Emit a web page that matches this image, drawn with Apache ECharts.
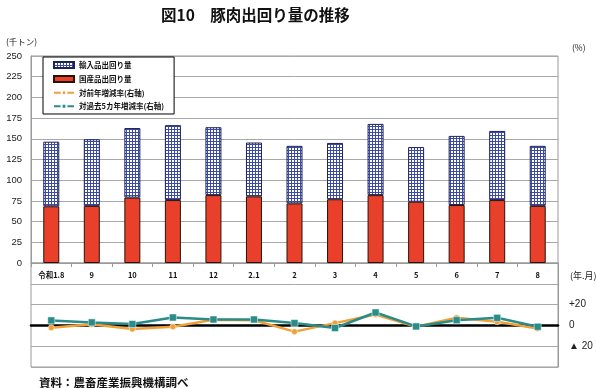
<!DOCTYPE html>
<html><head><meta charset="utf-8">
<script src="https://cdn.jsdelivr.net/npm/echarts@6/dist/echarts.min.js"></script>
<style>html,body{margin:0;padding:0;background:#fff}#c{width:596px;height:388px}</style>
</head><body><div id="c"></div>
<script>
const categories = ['令和1.8','9','10','11','12','2.1','2','3','4','5','6','7','8'];
const domestic = [68.5, 69, 79, 76, 82, 80.5, 72, 77, 82, 74, 70, 76, 69];
const imported = [78, 80.5, 84, 90.5, 82, 65, 69.5, 68, 86, 66, 83.5, 83.5, 72.5];
const yoy = [-2.2, 1, -3.5, -1.3, 5.4, 5, -6, 2.2, 10.5, -1.3, 7.3, 3.5, -2.9];
const vs5y = [4.8, 2.9, 1.3, 7.6, 5.7, 5.7, 2.2, -2.5, 12.4, -1, 5, 7.3, -1.3];
const leftTicks = [0,25,50,75,100,125,150,175,200,225,250];
const rightTickLabels = {'20':'+20','0':'0','-20':'▲ 20'};

const pc = document.createElement('canvas');
pc.width = 3; pc.height = 3;
const g = pc.getContext('2d');
g.fillStyle = '#ffffff'; g.fillRect(0,0,3,3);
g.fillStyle = '#3a4aa5'; g.fillRect(0,0,3,1); g.fillRect(0,0,1,3);

const FONT = '"Noto Sans CJK JP", "Liberation Sans", sans-serif';
const chart = echarts.init(document.getElementById('c'));
chart.setOption({
  animation: false,
  textStyle: {fontFamily: FONT},
  title: [
    {text: '図10　豚肉出回り量の推移', left: 156, top: 2, textStyle: {fontSize: 15.5, fontWeight: 'bold', color: '#111', fontFamily: FONT}},
    {text: '(千トン)', left: 1, top: 33, textStyle: {fontSize: 8.5, fontWeight: 'normal', color: '#222', fontFamily: FONT}},
    {text: '(%)', left: 567, top: 39, textStyle: {fontSize: 8.5, fontWeight: 'normal', color: '#222', fontFamily: FONT}},
    {text: '(年.月)', left: 565, top: 266, textStyle: {fontSize: 9, fontWeight: 'normal', color: '#222', fontFamily: FONT}},
    {text: '資料：農畜産業振興機構調べ', left: 34, top: 372, textStyle: {fontSize: 11.5, fontWeight: 'bold', color: '#111', fontFamily: FONT}}
  ],
  legend: {
    left: 43, top: 57, orient: 'vertical', itemGap: 6, itemWidth: 20, itemHeight: 6,
    padding: [4, 10, 4, 10], borderColor: '#000', borderWidth: 1, borderRadius: 0, backgroundColor: '#fff',
    textStyle: {fontSize: 7.5, color: '#111', fontFamily: FONT, fontWeight: 'bold'},
    data: [
      {name: '輸入品出回り量', icon: 'rect'},
      {name: '国産品出回り量', icon: 'rect'},
      {name: '対前年増減率(右軸)'},
      {name: '対過去5カ年増減率(右軸)'}
    ]
  },
  grid: [
    {left: 31, right: 38, top: 56, height: 207, show: true, borderColor: '#999', borderWidth: 1, backgroundColor: 'transparent'},
    {left: 31, right: 38, top: 263, height: 104, show: true, borderColor: '#999', borderWidth: 1, backgroundColor: 'transparent'}
  ],
  xAxis: [
    {gridIndex: 0, type: 'category', data: categories,
     axisLine: {lineStyle: {color: '#999'}}, axisTick: {show: true, length: 4, lineStyle: {color: '#999'}},
     axisLabel: {fontSize: 7.5, color: '#111', fontWeight: 'bold', margin: 8, interval: 0}},
    {gridIndex: 1, type: 'category', data: categories,
     axisLine: {onZero: true, lineStyle: {color: '#000', width: 2.5}}, axisTick: {show: false}, axisLabel: {show: false}}
  ],
  yAxis: [
    {gridIndex: 0, type: 'value', min: 0, max: 250, interval: 25,
     axisLine: {show: true, lineStyle: {color: '#999'}}, axisTick: {show: false},
     axisLabel: {fontSize: 9.5, color: '#222', margin: 9, fontFamily: '"Liberation Sans", Arial, sans-serif'},
     splitLine: {lineStyle: {color: '#a8a8a8', width: 1}}},
    {gridIndex: 1, type: 'value', position: 'right', min: -40, max: 60, interval: 20,
     axisLine: {show: true, lineStyle: {color: '#999'}}, axisTick: {show: false},
     axisLabel: {fontSize: 10, color: '#222', margin: 11, fontFamily: '"Liberation Sans", Arial, sans-serif',
       formatter: v => rightTickLabels[String(v)] || ''},
     splitLine: {lineStyle: {color: '#a8a8a8', width: 1}}}
  ],
  series: [
    {name: '国産品出回り量', type: 'bar', stack: 'v', xAxisIndex: 0, yAxisIndex: 0, data: domestic, barWidth: 16,
     itemStyle: {color: '#e8402a', borderColor: '#2a1208', borderWidth: 1}},
    {name: '輸入品出回り量', type: 'bar', stack: 'v', xAxisIndex: 0, yAxisIndex: 0, data: imported, barWidth: 16,
     itemStyle: {color: {image: pc, repeat: 'repeat'}, borderColor: '#1c2455', borderWidth: 1}},
    {name: '対前年増減率(右軸)', type: 'line', xAxisIndex: 1, yAxisIndex: 1, data: yoy,
     symbol: 'circle', symbolSize: 6, lineStyle: {color: '#f0a038', width: 2.5},
     itemStyle: {color: '#f0a038', borderColor: '#fff', borderWidth: 0.5}, z: 3},
    {name: '対過去5カ年増減率(右軸)', type: 'line', xAxisIndex: 1, yAxisIndex: 1, data: vs5y,
     symbol: 'rect', symbolSize: 7, lineStyle: {color: '#2a8c88', width: 2.5},
     itemStyle: {color: '#2a8c88', borderColor: '#fff', borderWidth: 0.5}, z: 4}
  ]
});
</script>
</body></html>
